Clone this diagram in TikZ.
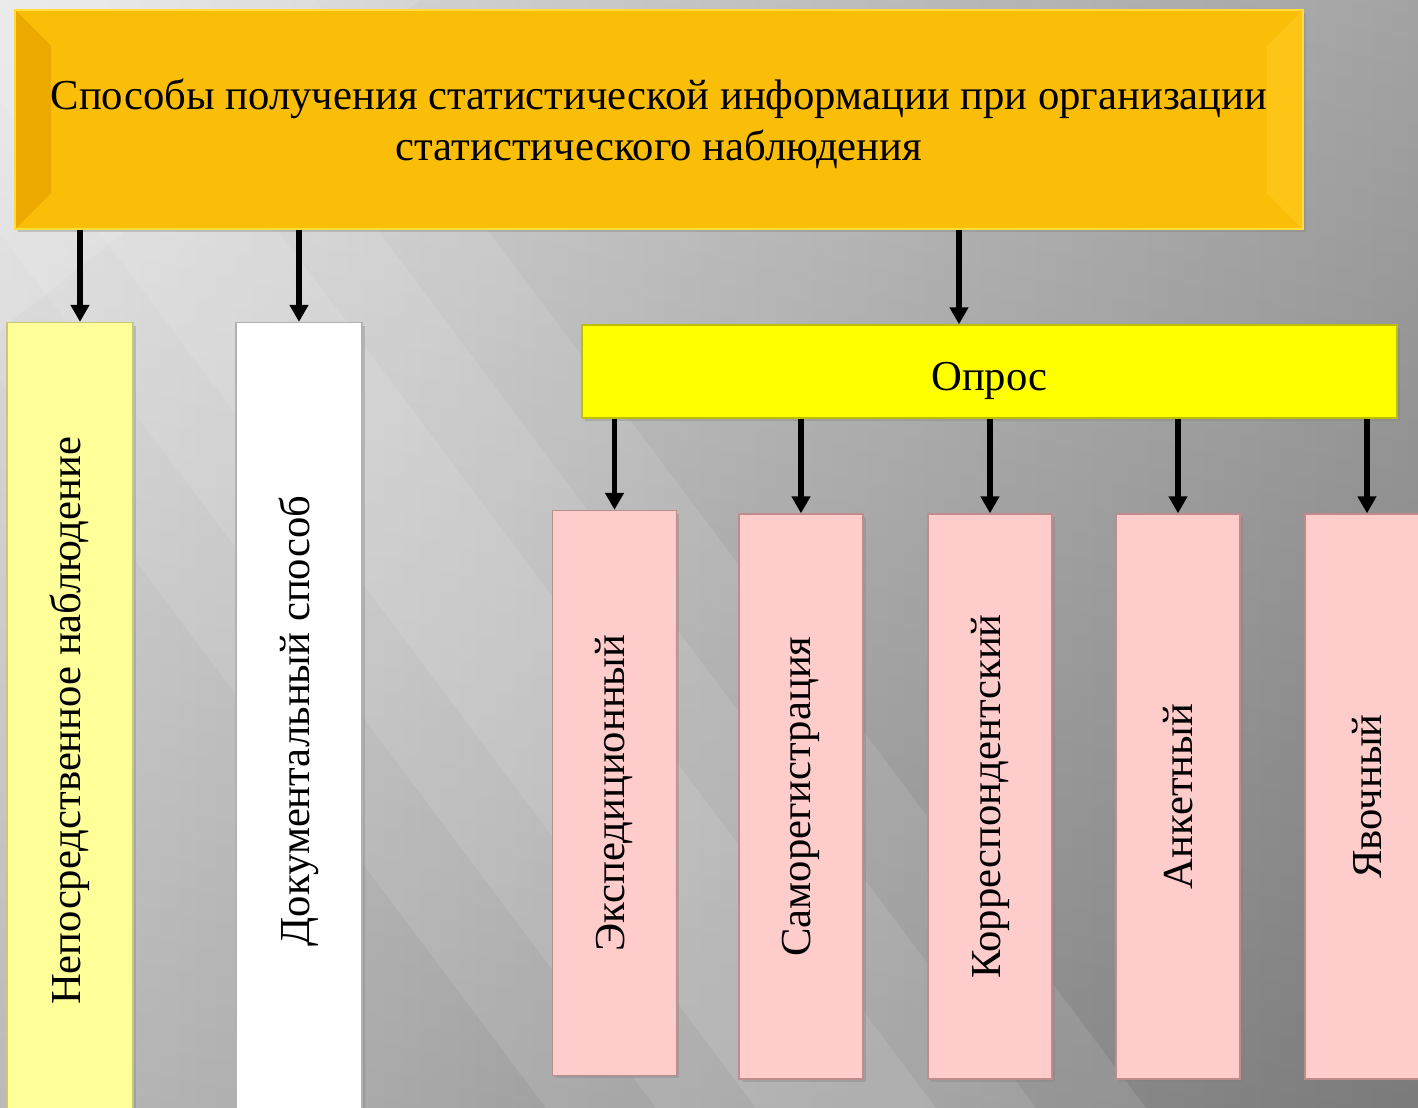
\documentclass[tikz,border=0pt]{standalone}
\usepackage{fontspec}
\setmainfont{Liberation Serif}
\usetikzlibrary{arrows.meta,shadows,calc}
\definecolor{bg_light}{RGB}{222,222,222}
\definecolor{bg_dark}{RGB}{146,146,146}
\definecolor{top_gold}{RGB}{250,190,8}
\definecolor{top_edge}{RGB}{255,222,60}
\definecolor{top_left}{RGB}{236,170,0}
\definecolor{top_right}{RGB}{253,198,22}
\definecolor{opr_yellow}{RGB}{255,255,0}
\definecolor{opr_edge}{RGB}{190,190,0}
\definecolor{pale_yellow}{RGB}{255,255,153}
\definecolor{pale_edge}{RGB}{200,200,120}
\definecolor{pink_box}{RGB}{255,204,204}
\definecolor{pink_edge}{RGB}{190,140,140}
\tikzstyle{topbox}=[rectangle,fill=top_gold,draw=top_edge,line width=0.8pt,
  minimum width=25.76cm,minimum height=4.38cm,align=center,inner sep=0pt,
  text depth=0pt,font=\fontsize{24.3}{28.8}\selectfont,
  drop shadow={shadow xshift=0.06cm,shadow yshift=-0.06cm,opacity=0.35},
  path picture={
    \fill[top_left] (path picture bounding box.south west)
      -- (path picture bounding box.north west)
      -- ($(path picture bounding box.north west)+(0.72cm,-0.72cm)$)
      -- ($(path picture bounding box.south west)+(0.72cm,0.72cm)$) -- cycle;
    \fill[top_right] (path picture bounding box.south east)
      -- (path picture bounding box.north east)
      -- ($(path picture bounding box.north east)+(-0.72cm,-0.72cm)$)
      -- ($(path picture bounding box.south east)+(-0.72cm,0.72cm)$) -- cycle;
  }]
\tikzstyle{oprbox}=[rectangle,fill=opr_yellow,draw=opr_edge,line width=0.8pt,
  minimum width=16.3cm,minimum height=1.86cm,inner sep=0pt,
  text height=0.74cm,text depth=0pt,
  font=\fontsize{24.3}{28.8}\selectfont,
  drop shadow={shadow xshift=0.06cm,shadow yshift=-0.06cm,opacity=0.35}]
\tikzstyle{vbox}=[rectangle,rotate=90,line width=0.8pt,inner sep=0pt,
  font=\fontsize{24.3}{28.8}\selectfont,
  drop shadow={shadow xshift=0.06cm,shadow yshift=-0.06cm,opacity=0.35}]
\tikzstyle{wayn}=[vbox,minimum width=15.94cm,minimum height=2.52cm]
\tikzstyle{kind}=[vbox,fill=pink_box,draw=pink_edge,
  minimum width=11.3cm,minimum height=2.48cm]
\tikzstyle{arr}=[line width=3.3pt,-{Triangle[length=0.34cm,width=0.36cm]}]

\begin{document}
\begin{tikzpicture}[x=0.02cm,y=-0.02cm]
        \useasboundingbox (0,0) rectangle (1418,1107);
        \clip (0,0) rectangle (1418,1107);
        % background with a soft diagonal glare
        \shade[left color=bg_light,right color=bg_dark] (0,0) rectangle (1418,1107);
        \shade[top color=white,bottom color=black,opacity=0.16] (0,0) rectangle (1418,1107);
        \fill[white,opacity=0.10] (-330,-60) -- (270,-60) -- (1200,1180) -- (600,1180) -- cycle;
        \fill[white,opacity=0.10] (-220,-60) -- (160,-60) -- (1090,1180) -- (710,1180) -- cycle;
        \fill[white,opacity=0.10] (-120,-60) -- (60,-60) -- (990,1180) -- (810,1180) -- cycle;
        \fill[white,opacity=0.12] (0,0) -- (420,0) -- (0,330) -- cycle;
        % boxes
        \node[style=topbox] (top) at (659,119.5) {Способы получения статистической информации при организации\\статистического наблюдения};
        \node[style=wayn,fill=pale_yellow,draw=pale_edge] (direct) at (70,721) {Непосредственное наблюдение};
        \node[style=wayn,fill=white,draw=gray!60] (docs) at (299,721) {Документальный способ};
        \node[style=oprbox] (opr) at (989.5,371.5) {Опрос};
        \node[style=kind] (exp) at (614.5,793) {Экспедиционный};
        \node[style=kind] (self) at (801,796.5) {Саморегистрация};
        \node[style=kind] (corr) at (990,796.5) {Корреспондентский};
        \node[style=kind] (ank) at (1178,796.5) {Анкетный};
        \node[style=kind] (yav) at (1367,796.5) {Явочный};
        % arrows
        \draw[style=arr] ([xshift=0.2cm]top.south -| direct.east) -- ([xshift=0.2cm]direct.east);
        \draw[style=arr] (top.south -| docs.east) -- (docs.east);
        \draw[style=arr] ([xshift=-0.61cm]top.south -| opr.north) -- ([xshift=-0.61cm]opr.north);
        \draw[style=arr] (opr.south -| exp.east) -- (exp.east);
        \draw[style=arr] (opr.south -| self.east) -- (self.east);
        \draw[style=arr] (opr.south -| corr.east) -- (corr.east);
        \draw[style=arr] (opr.south -| ank.east) -- (ank.east);
        \draw[style=arr] (opr.south -| yav.east) -- (yav.east);
    \end{tikzpicture}
\end{document}
